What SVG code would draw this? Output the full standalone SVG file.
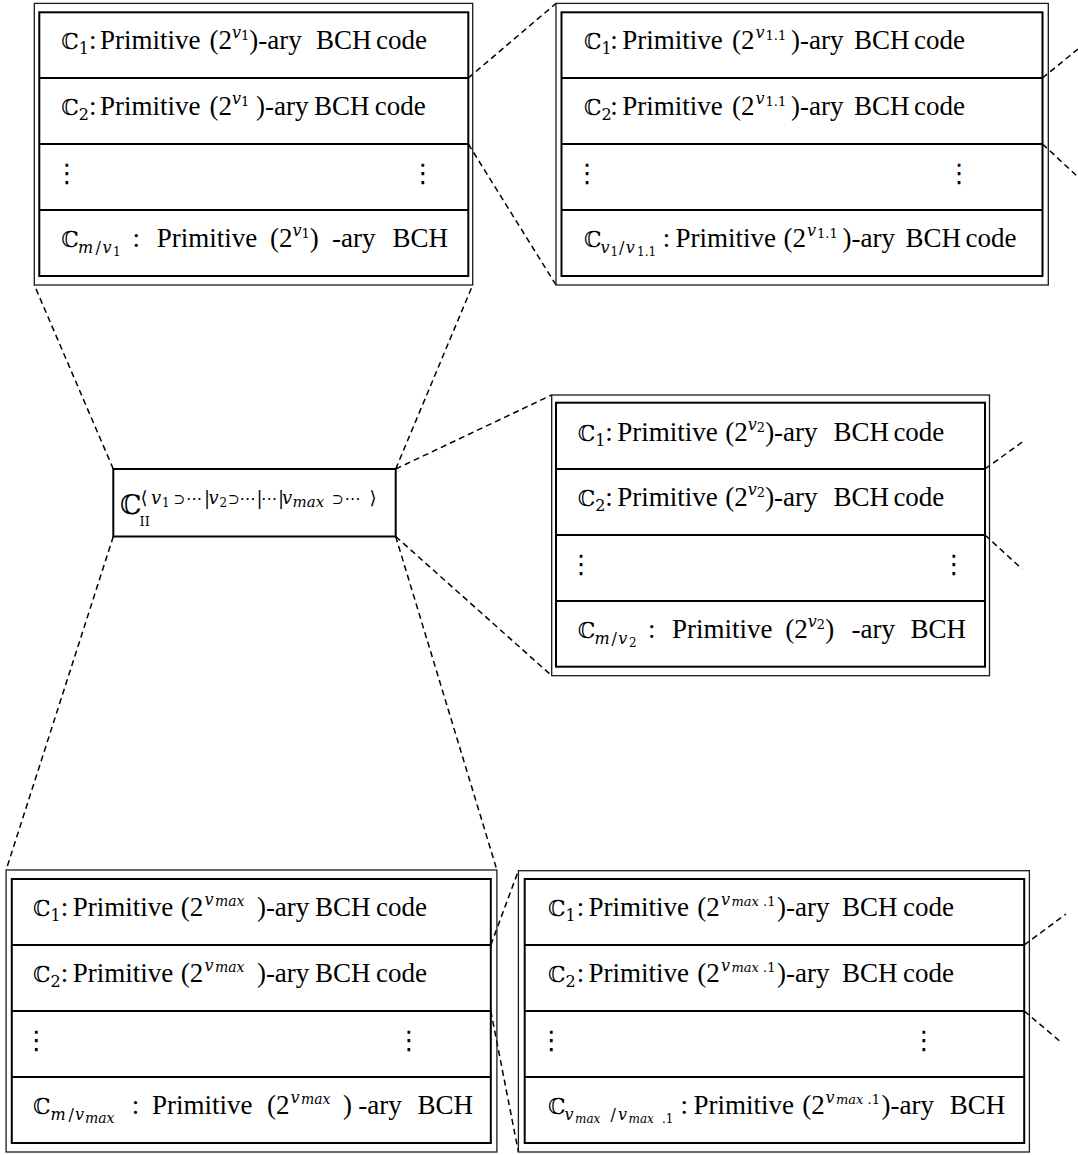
<svg xmlns="http://www.w3.org/2000/svg" width="1078" height="1155" viewBox="0 0 1078 1155">
<style>
.o{fill:none;stroke:#1a1a1a;stroke-width:1.3}
.i{fill:none;stroke:#000;stroke-width:2}
.dv{stroke:#000;stroke-width:2}
.c line{stroke:#000;stroke-width:1.5;stroke-dasharray:6 4;fill:none}
.w{font-family:"Liberation Serif","Times New Roman",serif;font-size:27px;fill:#000}
.m{font-family:"DejaVu Serif","DejaVu Sans",serif}
.bb{font-family:"DejaVu Serif","DejaVu Sans",serif;font-size:22px}
.it{font-style:italic}
.s1{font-size:16px}
.s2{font-size:12px}
.s3{font-size:13px}
.sv{font-size:16px}
.sp{font-size:14px}
.op{font-size:14px}
.el{font-size:16px}
.vd{font-family:"DejaVu Sans",sans-serif;font-size:26px;text-anchor:middle}
</style>
<rect width="1078" height="1155" fill="#fff"/>

<!-- dashed zoom connectors -->
<g id="connectors" class="c">
<line x1="468.3" y1="78" x2="556" y2="3.4"/>
<line x1="468.3" y1="144" x2="556" y2="285"/>
<line x1="1042.5" y1="78" x2="1078" y2="49"/>
<line x1="1042.5" y1="144" x2="1078" y2="177"/>
<line x1="113.3" y1="469" x2="34.3" y2="285"/>
<line x1="395.7" y1="469" x2="472.7" y2="285"/>
<line x1="395.7" y1="469" x2="551.7" y2="395"/>
<line x1="395.7" y1="536.5" x2="551.7" y2="675.7"/>
<line x1="113.3" y1="536.5" x2="6.1" y2="870"/>
<line x1="395.7" y1="536.5" x2="496.9" y2="870"/>
<line x1="985" y1="469" x2="1025" y2="440"/>
<line x1="985" y1="535" x2="1022" y2="569"/>
<line x1="490.8" y1="945" x2="518.4" y2="870.7"/>
<line x1="490.8" y1="1011" x2="518.4" y2="1152"/>
<line x1="1024.2" y1="945" x2="1066" y2="914"/>
<line x1="1024.2" y1="1011" x2="1062" y2="1043"/>
</g>

<!-- root code -->
<g id="root">
<rect class="i" x="113.3" y="469" width="282.4" height="67.5"/>
<text class="bb" x="120" y="514" style="font-size:27px">ℂ</text>
<text class="m" x="139.5" y="526" font-size="13">II</text>
<text class="m" y="504" font-size="18"><tspan x="140.5">⟨</tspan><tspan class="it" x="151">v</tspan><tspan font-size="12" x="162" dy="3">1</tspan><tspan class="op" x="173.5" dy="-3">⊃</tspan><tspan class="el" x="186">⋯</tspan><tspan x="204">|</tspan><tspan class="it" x="208.5">v</tspan><tspan font-size="12" x="219.5" dy="3">2</tspan><tspan class="op" x="228" dy="-3">⊃</tspan><tspan class="el" x="239.5">⋯</tspan><tspan x="256.5">|</tspan><tspan class="el" x="261">⋯</tspan><tspan x="278">|</tspan><tspan class="it" x="282">v</tspan><tspan class="it" font-size="15" x="292.5" dy="3">max</tspan><tspan class="op" x="332" dy="-3">⊃</tspan><tspan class="el" x="344.5">⋯</tspan><tspan x="369.5">⟩</tspan></text>
</g>

<!-- level v1 -->
<g id="code-v1">
<rect class="o" x="34.3" y="3.4" width="438.4" height="281.6"/>
<rect class="i" x="39.3" y="12.3" width="429" height="263.7"/>
<path class="dv" d="M39.3 78H468.3M39.3 144H468.3M39.3 210H468.3"/>
<text class="w" y="49"><tspan class="bb" x="61.3">ℂ</tspan><tspan class="m s1" dy="5">1</tspan><tspan x="88.9" dy="-5">:</tspan><tspan x="99.9">Primitive</tspan><tspan x="209.4">(2</tspan><tspan class="m it sv" dy="-11">v</tspan><tspan class="m s3" dy="2">1</tspan><tspan dy="9">)-ary</tspan><tspan x="316">BCH</tspan><tspan x="376">code</tspan></text>
<text class="w" y="115"><tspan class="bb" x="61.3">ℂ</tspan><tspan class="m s1" dy="5">2</tspan><tspan x="88.9" dy="-5">:</tspan><tspan x="99.9">Primitive</tspan><tspan x="209.4">(2</tspan><tspan class="m it sv" dy="-11">v</tspan><tspan class="m s3" dy="2">1</tspan><tspan x="256" dy="9">)-ary</tspan><tspan x="314">BCH</tspan><tspan x="374.7">code</tspan></text>
<text class="vd" x="67" y="182">⋮</text>
<text class="vd" x="423" y="182">⋮</text>
<text class="w" y="247"><tspan class="bb" x="61.3">ℂ</tspan><tspan class="m it s1" x="78" dy="6">m</tspan><tspan class="m s1" x="95.5">/</tspan><tspan class="m it s1" x="102.5">v</tspan><tspan class="m s2" x="113" dy="3">1</tspan><tspan x="132.6" dy="-9">:</tspan><tspan x="156.7">Primitive</tspan><tspan x="270">(2</tspan><tspan class="m it sv" dy="-11">v</tspan><tspan class="m s3" dy="2">1</tspan><tspan dy="9">)</tspan><tspan x="332">-ary</tspan><tspan x="392.6">BCH</tspan></text>
</g>

<!-- level v1.1 -->
<g id="code-v1-1">
<rect class="o" x="556" y="3.4" width="492.3" height="281.6"/>
<rect class="i" x="561.5" y="12.3" width="481" height="263.7"/>
<path class="dv" d="M561.5 78H1042.5M561.5 144H1042.5M561.5 210H1042.5"/>
<text class="w" y="49"><tspan class="bb" x="583.9">ℂ</tspan><tspan class="m s1" dy="5">1</tspan><tspan x="610.3" dy="-5">:</tspan><tspan x="622.3">Primitive</tspan><tspan x="732.1">(2</tspan><tspan class="m it sv" x="755.5" dy="-11">v</tspan><tspan class="m s3" x="765.5" dy="2">1.1</tspan><tspan x="791" dy="9">)-ary</tspan><tspan x="854">BCH</tspan><tspan x="914">code</tspan></text>
<text class="w" y="115"><tspan class="bb" x="583.9">ℂ</tspan><tspan class="m s1" dy="5">2</tspan><tspan x="610.3" dy="-5">:</tspan><tspan x="622.3">Primitive</tspan><tspan x="732.1">(2</tspan><tspan class="m it sv" x="755.5" dy="-11">v</tspan><tspan class="m s3" x="765.5" dy="2">1.1</tspan><tspan x="791" dy="9">)-ary</tspan><tspan x="854">BCH</tspan><tspan x="914">code</tspan></text>
<text class="vd" x="587.3" y="182">⋮</text>
<text class="vd" x="959.3" y="182">⋮</text>
<text class="w" y="247"><tspan class="bb" x="583.9">ℂ</tspan><tspan class="m it s1" x="600.5" dy="6">v</tspan><tspan class="m s2" x="610.5" dy="3">1</tspan><tspan class="m s1" x="619" dy="-3">/</tspan><tspan class="m it s1" x="625.8">v</tspan><tspan class="m s2" x="637" dy="3">1.1</tspan><tspan x="662.8" dy="-9">:</tspan><tspan x="675.5">Primitive</tspan><tspan x="783.6">(2</tspan><tspan class="m it sv" x="807" dy="-11">v</tspan><tspan class="m s3" x="817" dy="2">1.1</tspan><tspan x="842.5" dy="9">)-ary</tspan><tspan x="905.4">BCH</tspan><tspan x="965.5">code</tspan></text>
</g>

<!-- level v2 -->
<g id="code-v2">
<rect class="o" x="551.7" y="395" width="437.8" height="280.7"/>
<rect class="i" x="556" y="402.7" width="429" height="264"/>
<path class="dv" d="M556 469H985M556 535H985M556 601H985"/>
<text class="w" y="441"><tspan class="bb" x="577.7">ℂ</tspan><tspan class="m s1" dy="5">1</tspan><tspan x="605.2" dy="-5">:</tspan><tspan x="617.2">Primitive</tspan><tspan x="725.3">(2</tspan><tspan class="m it sv" dy="-11">v</tspan><tspan class="m s3" dy="2">2</tspan><tspan dy="9">)-ary</tspan><tspan x="833.4">BCH</tspan><tspan x="893.4">code</tspan></text>
<text class="w" y="506"><tspan class="bb" x="577.7">ℂ</tspan><tspan class="m s1" dy="5">2</tspan><tspan x="605.2" dy="-5">:</tspan><tspan x="617.2">Primitive</tspan><tspan x="725.3">(2</tspan><tspan class="m it sv" dy="-11">v</tspan><tspan class="m s3" dy="2">2</tspan><tspan dy="9">)-ary</tspan><tspan x="833.4">BCH</tspan><tspan x="893.4">code</tspan></text>
<text class="vd" x="581.2" y="573">⋮</text>
<text class="vd" x="954.1" y="573">⋮</text>
<text class="w" y="638"><tspan class="bb" x="577.7">ℂ</tspan><tspan class="m it s1" x="594.5" dy="6">m</tspan><tspan class="m s1" x="611.5">/</tspan><tspan class="m it s1" x="618.2">v</tspan><tspan class="m s2" x="629" dy="3">2</tspan><tspan x="648" dy="-9">:</tspan><tspan x="672">Primitive</tspan><tspan x="785.3">(2</tspan><tspan class="m it sv" dy="-11">v</tspan><tspan class="m s3" dy="2">2</tspan><tspan dy="9">)</tspan><tspan x="851.5">-ary</tspan><tspan x="910.6">BCH</tspan></text>
</g>

<!-- level vmax -->
<g id="code-vmax">
<rect class="o" x="6.1" y="870" width="490.8" height="282"/>
<rect class="i" x="11.8" y="879" width="479" height="264"/>
<path class="dv" d="M11.8 945H490.8M11.8 1011H490.8M11.8 1077H490.8"/>
<text class="w" y="916"><tspan class="bb" x="33.1">ℂ</tspan><tspan class="m s1" dy="5">1</tspan><tspan x="60.8" dy="-5">:</tspan><tspan x="72.7">Primitive</tspan><tspan x="180.8">(2</tspan><tspan class="m it sv" x="204.5" dy="-11">v</tspan><tspan class="m it sp" x="215" dy="1">max</tspan><tspan x="256.9" dy="10">)-ary</tspan><tspan x="315">BCH</tspan><tspan x="376">code</tspan></text>
<text class="w" y="982"><tspan class="bb" x="33.1">ℂ</tspan><tspan class="m s1" dy="5">2</tspan><tspan x="60.8" dy="-5">:</tspan><tspan x="72.7">Primitive</tspan><tspan x="180.8">(2</tspan><tspan class="m it sv" x="204.5" dy="-11">v</tspan><tspan class="m it sp" x="215" dy="1">max</tspan><tspan x="256.9" dy="10">)-ary</tspan><tspan x="315">BCH</tspan><tspan x="376">code</tspan></text>
<text class="vd" x="36.5" y="1049">⋮</text>
<text class="vd" x="409" y="1049">⋮</text>
<text class="w" y="1114"><tspan class="bb" x="33.1">ℂ</tspan><tspan class="m it s1" x="50.5" dy="6">m</tspan><tspan class="m s1" x="68.5">/</tspan><tspan class="m it s1" x="75">v</tspan><tspan class="m it sp" x="85" dy="3">max</tspan><tspan x="131.8" dy="-9">:</tspan><tspan x="152.1">Primitive</tspan><tspan x="267">(2</tspan><tspan class="m it sv" x="290.5" dy="-11">v</tspan><tspan class="m it sp" x="301" dy="1">max</tspan><tspan x="343" dy="10">)</tspan><tspan x="358.3">-ary</tspan><tspan x="417.4">BCH</tspan></text>
</g>

<!-- level vmax.1 -->
<g id="code-vmax-1">
<rect class="o" x="518.4" y="870.7" width="511" height="281.3"/>
<rect class="i" x="524.7" y="879" width="499.5" height="264"/>
<path class="dv" d="M524.7 945H1024.2M524.7 1011H1024.2M524.7 1077H1024.2"/>
<text class="w" y="916"><tspan class="bb" x="547.9">ℂ</tspan><tspan class="m s1" dy="5">1</tspan><tspan x="576.7" dy="-5">:</tspan><tspan x="588.5">Primitive</tspan><tspan x="697.2">(2</tspan><tspan class="m it sv" x="721" dy="-11">v</tspan><tspan class="m it s3" x="731.5" dy="1">max</tspan><tspan class="m s3" x="763">.1</tspan><tspan x="777" dy="10">)-ary</tspan><tspan x="842">BCH</tspan><tspan x="903">code</tspan></text>
<text class="w" y="982"><tspan class="bb" x="547.9">ℂ</tspan><tspan class="m s1" dy="5">2</tspan><tspan x="576.7" dy="-5">:</tspan><tspan x="588.5">Primitive</tspan><tspan x="697.2">(2</tspan><tspan class="m it sv" x="721" dy="-11">v</tspan><tspan class="m it s3" x="731.5" dy="1">max</tspan><tspan class="m s3" x="763">.1</tspan><tspan x="777" dy="10">)-ary</tspan><tspan x="842">BCH</tspan><tspan x="903">code</tspan></text>
<text class="vd" x="551.6" y="1049">⋮</text>
<text class="vd" x="923.9" y="1049">⋮</text>
<text class="w" y="1114"><tspan class="bb" x="547.9">ℂ</tspan><tspan class="m it s1" x="564.5" dy="6">v</tspan><tspan class="m it s2" x="575" dy="3">max</tspan><tspan class="m s1" x="610.5" dy="-3">/</tspan><tspan class="m it s1" x="618">v</tspan><tspan class="m it s2" x="628.5" dy="3">max</tspan><tspan class="m s2" x="662">.1</tspan><tspan x="680.6" dy="-9">:</tspan><tspan x="693.5">Primitive</tspan><tspan x="802.3">(2</tspan><tspan class="m it sv" x="825.5" dy="-11">v</tspan><tspan class="m it s3" x="836" dy="1">max</tspan><tspan class="m s3" x="867.5">.1</tspan><tspan x="881.5" dy="10">)-ary</tspan><tspan x="949.7">BCH</tspan></text>
</g>
</svg>
